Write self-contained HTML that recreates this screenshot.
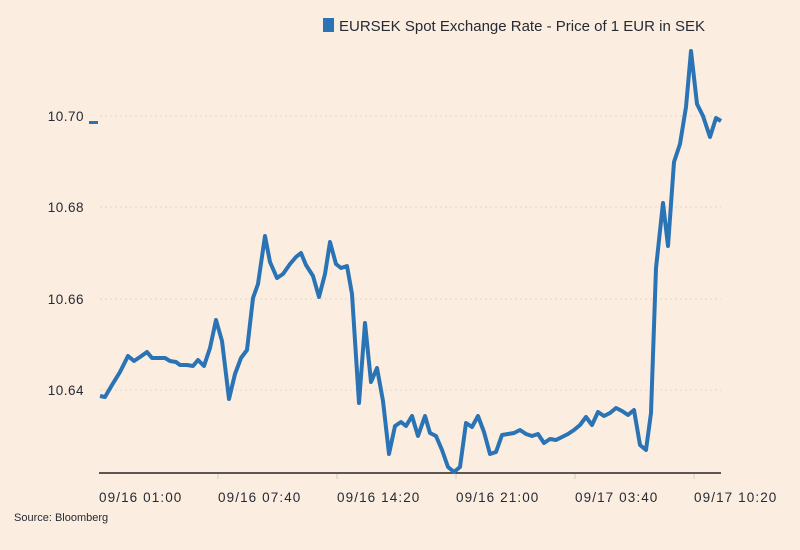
<!DOCTYPE html>
<html><head><meta charset="utf-8"><style>
html,body{margin:0;padding:0;background:#fcede1;}
svg{display:block;font-family:"Liberation Sans",sans-serif;}
</style></head><body>
<svg width="800" height="550" viewBox="0 0 800 550">
<rect width="800" height="550" fill="#fcede1"/>
<rect x="323" y="18" width="11" height="14" fill="#2a73b5"/>
<text x="339" y="31" font-size="15" fill="#262a33">EURSEK Spot Exchange Rate - Price of 1 EUR in SEK</text>
<g stroke="#e3d5c8" stroke-width="1" stroke-dasharray="2,3">
<line x1="100" y1="116" x2="721" y2="116"/>
<line x1="100" y1="207" x2="721" y2="207"/>
<line x1="100" y1="299" x2="721" y2="299"/>
<line x1="100" y1="390" x2="721" y2="390"/>
</g>
<g font-size="13.5" fill="#262a33" text-anchor="end" letter-spacing="0.5">
<text x="84" y="121">10.70</text>
<text x="84" y="212">10.68</text>
<text x="84" y="304">10.66</text>
<text x="84" y="395">10.64</text>
</g>
<rect x="89" y="121" width="9" height="3" fill="#2a73b5"/>
<line x1="99" y1="473" x2="721" y2="473" stroke="#2a2522" stroke-width="1.5"/>
<g stroke="#d5c9bd"><line x1="218" y1="474" x2="218" y2="479"/><line x1="337" y1="474" x2="337" y2="479"/><line x1="456" y1="474" x2="456" y2="479"/><line x1="575" y1="474" x2="575" y2="479"/><line x1="694" y1="474" x2="694" y2="479"/></g>
<g font-size="13.5" fill="#262a33" letter-spacing="1.1">
<text x="99" y="502">09/16 01:00</text>
<text x="218" y="502">09/16 07:40</text>
<text x="337" y="502">09/16 14:20</text>
<text x="456" y="502">09/16 21:00</text>
<text x="575" y="502">09/17 03:40</text>
<text x="694" y="502">09/17 10:20</text>
</g>
<text x="14" y="521" font-size="11" fill="#262a33">Source: Bloomberg</text>
<polyline fill="none" stroke="#2a73b5" stroke-width="4" stroke-linejoin="round" points="100,396 105,397 112,385 120,372 128,356 134,361 140,357 147,352 152,358 160,358 165,358 170,361 176,362 180,365 187,365 193,366 198,360 204,366 210,348 216,320 222,341 229,399 235,374 241,358 247,350 253,298 258,284 265,236 270,262 277,278 283,274 290,264 296,257 301,253 306,265 313,276 319,297 325,274 330,242 336,264 341,268 347,266 352,294 359,403 365,323 371,382 377,368 383,401 389,454 395,426 401,422 406,426 412,416 418,436 425,416 430,433 436,436 442,450 448,467 454,472 460,467 466,423 472,427 478,416 484,432 490,454 496,452 502,435 508,434 514,433 520,430 526,434 532,436 538,434 544,443 550,439 556,440 562,437 568,434 574,430 580,425 586,417 592,425 598,412 604,416 610,413 616,408 622,411 628,415 634,410 640,445 646,450 651,413 656,268 663,203 668,246 674,162 680,144 686,107 691,51 697,104 703,116 710,137 716,118 721,121"/>
</svg>
</body></html>
